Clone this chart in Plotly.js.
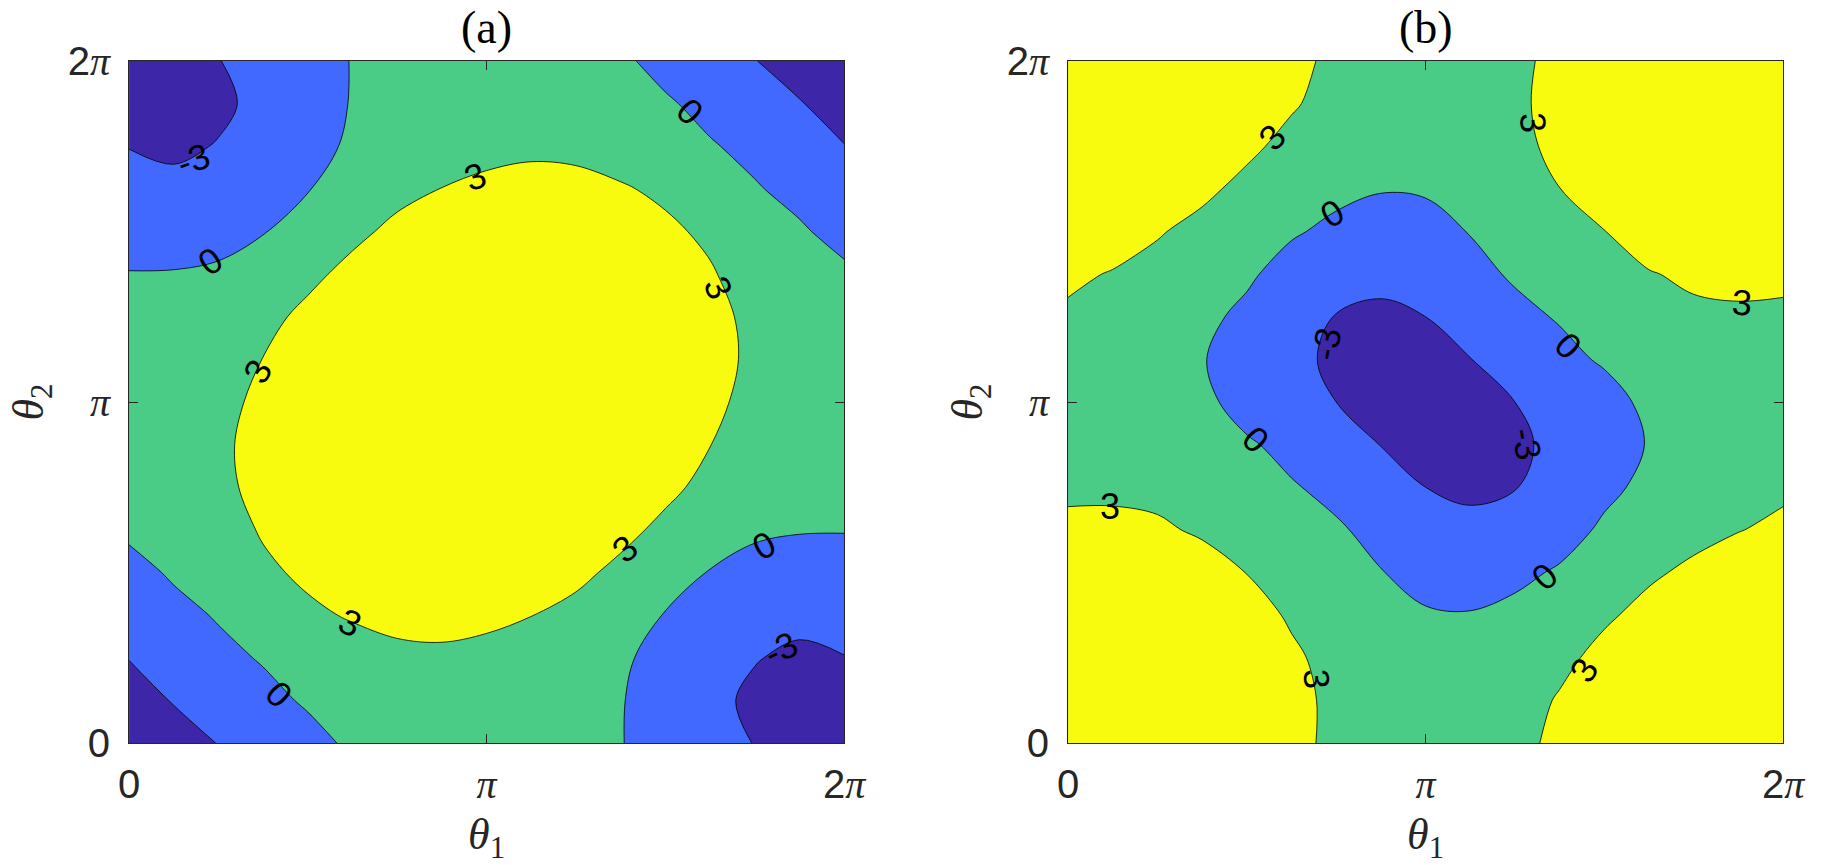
<!DOCTYPE html>
<html>
<head>
<meta charset="utf-8">
<script src="https://cdn.plot.ly/plotly-3.0.1.min.js"></script>
<style>
html, body { margin: 0; padding: 0; background: #ffffff; }
#chart { width: 1823px; height: 865px; }
</style>
</head>
<body>
<div id="chart"></div>
<script>
// grid of phase values (0 .. 2*pi, step pi/8)
const theta = [0, 0.3927, 0.7854, 1.1781, 1.5708, 1.9635, 2.3562, 2.7489, 3.1416,
               3.5343, 3.9270, 4.3197, 4.7124, 5.1051, 5.4978, 5.8905, 6.2832];

// panel (a): values, rows = theta2, columns = theta1
const zA = [
  [-4.0, -3.76, -2.95, -2.03, -0.8, 0.43, 1.46, 2.16, 2.35, 2.15, 1.2, 0.1, -1.15, -2.3, -3.05, -3.8, -4.0],
  [-3.76, -2.9, -1.8, -0.72, 0.3, 0.95, 1.75, 2.3, 2.5, 2.3, 1.45, 0.15, -1.3, -2.32, -3.5, -4.3, -3.8],
  [-2.95, -1.8, -0.65, 0.2, 1.2, 2.0, 2.5, 2.6, 2.6, 2.55, 1.9, 0.35, -0.77, -1.83, -2.87, -3.5, -3.05],
  [-2.03, -0.72, 0.2, 1.5, 2.6, 3.2, 3.6, 3.7, 3.3, 3.02, 2.4, 0.93, -0.1, -1.4, -1.83, -2.32, -2.3],
  [-0.8, 0.3, 1.2, 2.6, 3.4, 4.3, 4.7, 4.8, 4.6, 3.8, 3.5, 2.5, 1.2, -0.1, -0.77, -1.3, -1.15],
  [0.43, 0.95, 2.0, 3.2, 4.3, 4.7, 5.2, 5.4, 5.3, 5.0, 4.3, 3.6, 2.5, 0.93, 0.35, 0.15, 0.1],
  [1.46, 1.75, 2.5, 3.6, 4.7, 5.2, 5.5, 5.8, 5.85, 5.7, 5.2, 4.3, 3.5, 2.4, 1.9, 1.45, 1.2],
  [2.16, 2.3, 2.6, 3.7, 4.8, 5.4, 5.8, 5.9, 6.0, 5.95, 5.7, 5.0, 3.8, 3.02, 2.55, 2.3, 2.15],
  [2.35, 2.5, 2.6, 3.3, 4.6, 5.3, 5.85, 6.0, 6.05, 6.0, 5.85, 5.3, 4.6, 3.3, 2.6, 2.5, 2.35],
  [2.15, 2.3, 2.55, 3.02, 3.8, 5.0, 5.7, 5.95, 6.0, 5.9, 5.8, 5.4, 4.8, 3.7, 2.6, 2.3, 2.16],
  [1.2, 1.45, 1.9, 2.4, 3.5, 4.3, 5.2, 5.7, 5.85, 5.8, 5.5, 5.2, 4.7, 3.6, 2.5, 1.75, 1.46],
  [0.1, 0.15, 0.35, 0.93, 2.5, 3.6, 4.3, 5.0, 5.3, 5.4, 5.2, 4.7, 4.3, 3.2, 2.0, 0.95, 0.43],
  [-1.15, -1.3, -0.77, -0.1, 1.2, 2.5, 3.5, 3.8, 4.6, 4.8, 4.7, 4.3, 3.4, 2.6, 1.2, 0.3, -0.8],
  [-2.3, -2.32, -1.83, -1.4, -0.1, 0.93, 2.4, 3.02, 3.3, 3.7, 3.6, 3.2, 2.6, 1.5, 0.2, -0.72, -2.03],
  [-3.05, -3.5, -2.87, -1.83, -0.77, 0.35, 1.9, 2.55, 2.6, 2.6, 2.5, 2.0, 1.2, 0.2, -0.65, -1.8, -2.95],
  [-3.8, -4.3, -3.5, -2.32, -1.3, 0.15, 1.45, 2.3, 2.5, 2.3, 1.75, 0.95, 0.3, -0.72, -1.8, -2.9, -3.76],
  [-4.0, -3.8, -3.05, -2.3, -1.15, 0.1, 1.2, 2.15, 2.35, 2.16, 1.46, 0.43, -0.8, -2.03, -2.95, -3.76, -4.0]
];

// panel (b): values, rows = theta2, columns = theta1
const zB = [
  [6.05, 6.0, 5.85, 5.3, 4.6, 3.3, 2.75, 2.5, 2.35, 2.5, 2.75, 3.2, 4.6, 5.3, 5.85, 6.0, 6.05],
  [6.0, 5.9, 5.8, 5.4, 4.8, 3.7, 2.45, 2.3, 2.15, 2.3, 2.55, 3.09, 3.8, 5.0, 5.7, 5.95, 6.0],
  [5.85, 5.8, 5.5, 5.2, 4.7, 3.4, 2.2, 1.75, 1.33, 1.45, 1.9, 2.74, 3.3, 4.3, 5.2, 5.7, 5.85],
  [5.3, 5.4, 5.2, 4.7, 4.0, 2.7, 2.0, 0.95, 0.27, 0.15, 0.83, 0.93, 2.85, 3.3, 4.3, 5.0, 5.3],
  [4.6, 4.8, 4.7, 4.3, 2.95, 2.6, 1.2, 0.1, -0.98, -1.3, -0.77, 0.38, 1.2, 2.85, 3.2, 3.8, 4.6],
  [3.3, 3.7, 3.45, 2.6, 2.6, 1.5, 0.3, -0.72, -2.17, -2.32, -1.83, -1.4, 0.54, 0.93, 2.7, 2.95, 3.3],
  [2.75, 2.45, 2.2, 2.0, 1.2, 0.2, -0.65, -1.8, -3.0, -3.5, -3.1, -1.83, -0.77, 0.8, 1.9, 2.55, 2.75],
  [2.5, 2.3, 1.75, 0.95, 0.3, -0.72, -1.8, -3.05, -3.78, -4.3, -3.5, -2.32, -1.3, 0.15, 1.45, 2.3, 2.5],
  [2.35, 2.15, 1.33, 0.6, -0.98, -2.17, -3.0, -3.78, -4.0, -3.78, -3.0, -2.17, -0.98, 0.6, 1.33, 2.15, 2.35],
  [2.5, 2.3, 1.45, 0.15, -1.3, -2.32, -3.5, -4.3, -3.78, -3.05, -1.8, -0.72, 0.3, 0.95, 1.75, 2.3, 2.5],
  [2.75, 2.55, 1.9, 0.8, -0.77, -1.83, -3.1, -3.5, -3.0, -1.8, -0.65, 0.2, 1.2, 2.0, 2.5, 2.6, 2.75],
  [3.3, 2.9, 2.4, 0.93, 0.54, -1.4, -1.83, -2.32, -2.17, -0.72, 0.3, 1.5, 2.6, 2.85, 3.45, 3.7, 3.3],
  [4.6, 3.8, 3.15, 2.45, 1.2, 0.38, -0.77, -1.3, -0.98, 0.1, 1.2, 2.6, 2.95, 4.3, 4.7, 4.8, 4.6],
  [5.3, 5.0, 4.3, 3.4, 2.5, 0.93, 0.83, 0.15, 0.27, 0.95, 2.0, 2.98, 4.3, 4.7, 5.2, 5.4, 5.3],
  [5.85, 5.7, 5.2, 4.3, 3.39, 2.45, 1.9, 1.45, 1.33, 1.75, 2.5, 3.45, 4.7, 5.2, 5.5, 5.8, 5.85],
  [6.0, 5.95, 5.7, 5.0, 3.8, 3.2, 2.3, 2.3, 2.15, 2.3, 2.6, 3.7, 4.8, 5.4, 5.8, 5.9, 6.0],
  [6.05, 6.0, 5.85, 5.3, 4.6, 3.3, 2.75, 2.5, 2.35, 2.5, 2.75, 3.3, 4.6, 5.3, 5.85, 6.0, 6.05]
];

const levels = [-3, 0, 3];
const bandColors = ['#3E26A8', '#4169FF', '#4ACB86', '#F9FB0E'];
const tickVals = [0, Math.PI, 2 * Math.PI];
const tickLabels = ['0', 'π', '2π'];
const panelTitles = ['(a)', '(b)'];
const axisTitles = ['θ', '1', '2'];

// contour level labels as placed in the reference (text, theta1, theta2, angle)
const labelTextA  = ['-3', '0', '3', '0', '3', '3', '3', '0', '3', '-3', '0'];
const labelUA     = [0.56, 0.71, 3.04, 4.93, 5.18, 1.13, 4.36, 5.58, 1.94, 5.73, 1.32];
const labelVA     = [5.38, 4.44, 5.22, 5.82, 4.20, 3.42, 1.79, 1.82, 1.11, 0.87, 0.45];
const labelAngleA = [-20, -35, -20, 45, 65, -60, -40, -28, 25, -25, 45];

const labelTextB  = ['3', '3', '0', '3', '-3', '0', '0', '-3', '3', '0', '3', '3'];
const labelUB     = [1.79, 4.09, 2.32, 5.92, 2.27, 4.39, 1.65, 4.03, 0.37, 4.19, 2.18, 4.53];
const labelVB     = [5.58, 5.72, 4.88, 4.06, 3.68, 3.66, 2.80, 2.76, 2.18, 1.53, 0.59, 0.67];
const labelAngleB = [-48, 85, -30, 3, -80, 45, 45, 80, 0, -42, 88, -58];

const piSpan = '<span style="font-family:\'Liberation Serif\'"><i>π</i></span>';
const tickText = tickLabels.map(t => t.replace('π', piSpan));

const colorscale = bandColors.map((c, i) => [i / (bandColors.length - 1), c]);

function contourTrace(z, xa, ya) {
  return {
    type: 'contour',
    x: theta, y: theta, z: z,
    xaxis: xa, yaxis: ya,
    autocontour: false,
    contours: {
      start: levels[0], end: levels[levels.length - 1], size: levels[1] - levels[0],
      coloring: 'fill', showlabels: false
    },
    colorscale: colorscale,
    showscale: false,
    line: { color: '#000000', width: 0.8, smoothing: 1 },
    hoverinfo: 'skip'
  };
}

function labelAnnotations(texts, us, vs, angles, xref, yref) {
  return texts.map((t, i) => ({
    text: t, x: us[i], y: vs[i], xref: xref, yref: yref,
    showarrow: false, xanchor: 'center', yanchor: 'middle',
    textangle: angles[i],
    font: { family: 'Liberation Sans', size: 36, color: '#000000' }
  }));
}

const axisCommon = {
  range: [0, 2 * Math.PI],
  tickmode: 'array', tickvals: tickVals, ticktext: tickText,
  ticks: 'inside', ticklen: 9, tickwidth: 1, tickcolor: '#262626',
  showline: true, linecolor: '#262626', linewidth: 1, mirror: 'allticks',
  showgrid: false, zeroline: false,
  tickfont: { family: 'Liberation Sans', size: 40, color: '#262626' },
  fixedrange: true
};

const xTitle = { text: '<i>' + axisTitles[0] + '</i><sub>' + axisTitles[1] + '</sub>',
  font: { family: 'Liberation Serif', size: 44, color: '#262626' }, standoff: 12 };
const yTitle = { text: '<i>' + axisTitles[0] + '</i><sub>' + axisTitles[2] + '</sub>',
  font: { family: 'Liberation Serif', size: 44, color: '#262626' }, standoff: 10 };

const xd1 = [0.0708, 0.4630], xd2 = [0.5859, 0.9781], yd = [0.1410, 0.9295];

const titleAnnotations = panelTitles.map((t, i) => ({
  text: t, x: i === 0 ? (xd1[0] + xd1[1]) / 2 : (xd2[0] + xd2[1]) / 2, y: 1 - 28 / 865,
  xref: 'paper', yref: 'paper', showarrow: false, xanchor: 'center', yanchor: 'middle',
  font: { family: 'Liberation Serif', size: 46, color: '#000000' }
}));

const layout = {
  width: 1823, height: 865,
  margin: { l: 0, r: 0, t: 0, b: 0 },
  paper_bgcolor: '#ffffff', plot_bgcolor: '#ffffff',
  showlegend: false,
  xaxis: Object.assign({}, axisCommon, { domain: xd1, anchor: 'y', title: xTitle, ticklabelstandoff: 6 }),
  yaxis: Object.assign({}, axisCommon, { domain: yd, anchor: 'x', title: yTitle, ticklabelstandoff: 10 }),
  xaxis2: Object.assign({}, axisCommon, { domain: xd2, anchor: 'y2', title: xTitle, ticklabelstandoff: 6 }),
  yaxis2: Object.assign({}, axisCommon, { domain: yd, anchor: 'x2', title: yTitle, ticklabelstandoff: 10 }),
  annotations: titleAnnotations
    .concat(labelAnnotations(labelTextA, labelUA, labelVA, labelAngleA, 'x', 'y'))
    .concat(labelAnnotations(labelTextB, labelUB, labelVB, labelAngleB, 'x2', 'y2'))
};

Plotly.newPlot('chart', [contourTrace(zA, 'x', 'y'), contourTrace(zB, 'x2', 'y2')], layout,
  { staticPlot: true, displayModeBar: false });
</script>
</body>
</html>
